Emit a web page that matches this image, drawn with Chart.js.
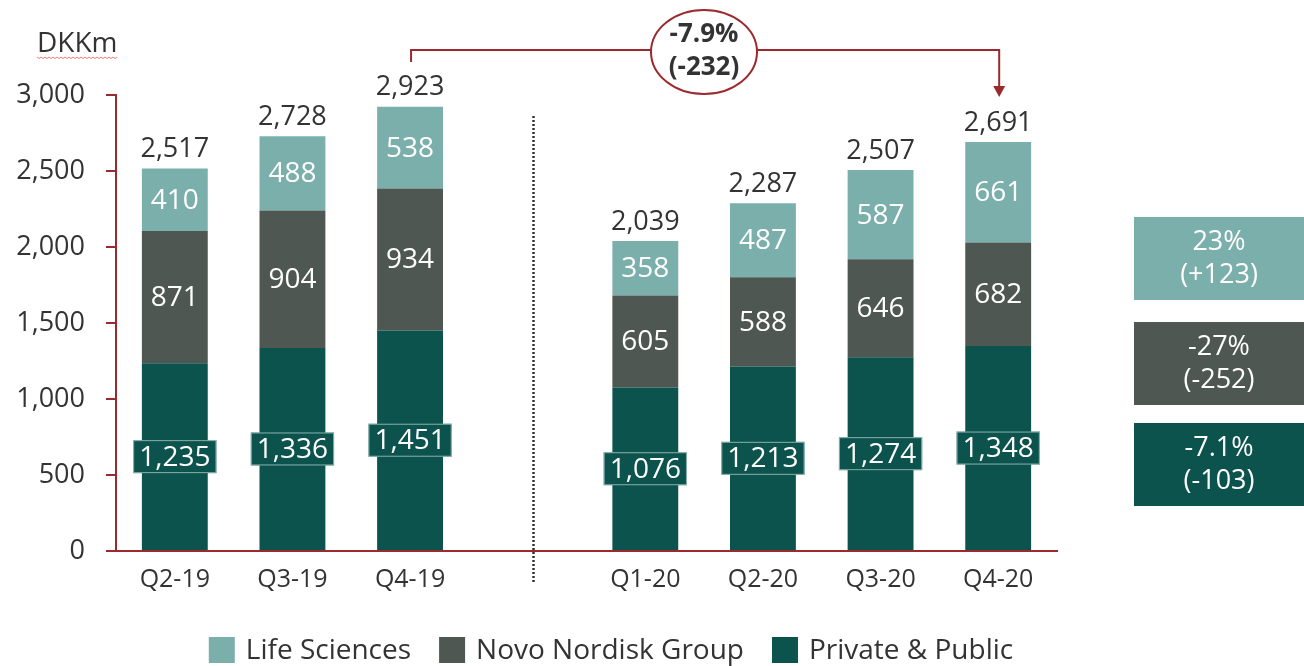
<!DOCTYPE html>
<html>
<head>
<meta charset="utf-8">
<script src="https://cdn.jsdelivr.net/npm/chart.js@4.4.0/dist/chart.umd.min.js"></script>
<style>
    html, body { margin: 0; padding: 0; background: #fff; }
    #wrap { width: 1304px; height: 666px; position: relative; }
</style>
</head>
<body>
<div id="wrap"><canvas id="revenueChart"></canvas></div>
<script>
const categories = ['Q2-19', 'Q3-19', 'Q4-19', '', 'Q1-20', 'Q2-20', 'Q3-20', 'Q4-20'];
const privatePublic = [1235, 1336, 1451, null, 1076, 1213, 1274, 1348];
const novoNordisk = [871, 904, 934, null, 605, 588, 646, 682];
const lifeSciences = [410, 488, 538, null, 358, 487, 587, 661];
const totals = [2517, 2728, 2923, null, 2039, 2287, 2507, 2691];
const yTicks = [0, 500, 1000, 1500, 2000, 2500, 3000];
const changeLife = ['23%', '(+123)'];
const changeNovo = ['-27%', '(-252)'];
const changePrivate = ['-7.1%', '(-103)'];
const bracketFrom = 2;
const bracketTo = 7;
const bracketText = ['-7.9%', '(-232)'];
const unitLabel = 'DKKm';

const colors = {
    life: '#7aafab',
    novo: '#4e5751',
    priv: '#0c524d',
    axis: '#9b2a2e',
    text: '#333333'
};
const fontFamily = "'Open Sans', 'DejaVu Sans', sans-serif";
Chart.defaults.font.family = fontFamily;
Chart.defaults.color = colors.text;

const fmt = v => v.toLocaleString('en-US');

// labels inside segments, totals, bracket, legend, change boxes
const decorations = {
    id: 'decorations',
    afterDatasetsDraw(chart) {
        const ctx = chart.ctx;
        const metas = chart.data.datasets.map((d, i) => chart.getDatasetMeta(i));
        ctx.save();
        ctx.textAlign = 'center';
        ctx.textBaseline = 'middle';
        ctx.font = '28px ' + fontFamily;

        metas.forEach((meta, di) => {
            const ds = chart.data.datasets[di];
            meta.data.forEach((bar, i) => {
                const v = ds.data[i];
                if (v == null) return;
                const cy = (bar.y + bar.base) / 2;
                const text = fmt(v);
                if (ds.labelBox) {
                    const w = ctx.measureText(text).width + 12;
                    const h = 33;
                    ctx.fillStyle = ds.backgroundColor;
                    ctx.fillRect(bar.x - w / 2, cy - h / 2, w, h);
                    ctx.strokeStyle = 'rgba(190,220,215,0.7)';
                    ctx.lineWidth = 1;
                    ctx.strokeRect(bar.x - w / 2 + 0.5, cy - h / 2 + 0.5, w - 1, h - 1);
                }
                ctx.fillStyle = '#ffffff';
                ctx.fillText(text, bar.x, cy + 1);
            });
        });

        // totals
        const top = metas[metas.length - 1];
        ctx.font = '27px ' + fontFamily;
        ctx.fillStyle = colors.text;
        top.data.forEach((bar, i) => {
            if (totals[i] == null) return;
            ctx.fillText(fmt(totals[i]), bar.x, bar.y - 19);
        });
        ctx.restore();
    },
    afterDraw(chart) {
        const ctx = chart.ctx;
        const x = chart.scales.x;
        ctx.save();

        // unit label
        ctx.font = '28px ' + fontFamily;
        ctx.fillStyle = colors.text;
        ctx.textBaseline = 'middle';
        ctx.textAlign = 'left';
        ctx.fillText(unitLabel, 37, 44);
        const uw = ctx.measureText(unitLabel).width;
        ctx.strokeStyle = 'rgba(230,90,90,0.8)';
        ctx.lineWidth = 1;
        ctx.beginPath();
        for (let px = 0; px <= uw; px += 2) {
            const py = 57 + ((px / 2) % 2 === 0 ? 0 : 1.5);
            if (px === 0) ctx.moveTo(37 + px, py); else ctx.lineTo(37 + px, py);
        }
        ctx.stroke();

        // dotted separator
        const sepX = Math.round(x.getPixelForValue(3)) + 5.5;
        ctx.strokeStyle = '#333';
        ctx.lineWidth = 2.5;
        ctx.setLineDash([2, 2]);
        ctx.beginPath();
        ctx.moveTo(sepX, 116);
        ctx.lineTo(sepX, 583);
        ctx.stroke();
        ctx.setLineDash([]);

        // bracket with arrow
        const x1 = x.getPixelForValue(bracketFrom) + 1;
        const x2 = x.getPixelForValue(bracketTo) + 1;
        const by = 50;
        ctx.strokeStyle = colors.axis;
        ctx.lineWidth = 2;
        ctx.beginPath();
        ctx.moveTo(x1, 62);
        ctx.lineTo(x1, by);
        ctx.lineTo(x2, by);
        ctx.lineTo(x2, 88);
        ctx.stroke();
        ctx.fillStyle = colors.axis;
        ctx.beginPath();
        ctx.moveTo(x2 - 6, 86);
        ctx.lineTo(x2 + 6, 86);
        ctx.lineTo(x2, 97);
        ctx.closePath();
        ctx.fill();

        // ellipse label
        const ex = 704, ey = 52;
        ctx.fillStyle = '#fff';
        ctx.beginPath();
        ctx.ellipse(ex, ey, 53, 42, 0, 0, Math.PI * 2);
        ctx.fill();
        ctx.stroke();
        ctx.fillStyle = colors.text;
        ctx.textAlign = 'center';
        ctx.font = 'bold 26px ' + fontFamily;
        ctx.fillText(bracketText[0], ex, ey - 17);
        ctx.fillText(bracketText[1], ex, ey + 16);

        // change boxes on the right
        const changes = [changeLife, changeNovo, changePrivate];
        const boxColors = [colors.life, colors.novo, colors.priv];
        const boxTops = [217, 322, 423];
        ctx.font = '27px ' + fontFamily;
        changes.forEach((c, i) => {
            ctx.fillStyle = boxColors[i];
            ctx.fillRect(1134, boxTops[i], 175, 83);
            ctx.fillStyle = '#fff';
            ctx.fillText(c[0], 1219, boxTops[i] + 25);
            ctx.fillText(c[1], 1219, boxTops[i] + 58);
        });

        // legend
        const items = [
            { label: chart.data.datasets[2].label, color: colors.life },
            { label: chart.data.datasets[1].label, color: colors.novo },
            { label: chart.data.datasets[0].label, color: colors.priv }
        ];
        ctx.font = '28px ' + fontFamily;
        ctx.textAlign = 'left';
        const box = 26, gap = 11, itemGap = 28;
        const widths = items.map(it => box + gap + ctx.measureText(it.label).width);
        const total = widths.reduce((a, b) => a + b, 0) + itemGap * (items.length - 1);
        let lx = 611 - total / 2;
        const ly = 650;
        items.forEach((it, i) => {
            ctx.fillStyle = it.color;
            ctx.fillRect(lx, ly - box / 2, box, box);
            ctx.fillStyle = colors.text;
            ctx.fillText(it.label, lx + box + gap, ly + 1);
            lx += widths[i] + itemGap;
        });

        ctx.restore();
    }
};

const barDefaults = {
    borderWidth: 0,
    barPercentage: 0.56,
    categoryPercentage: 1
};

const chartCtx = document.getElementById('revenueChart').getContext('2d');
const revenueChart = new Chart(chartCtx, {
    type: 'bar',
    data: {
        labels: categories,
        datasets: [{
            label: 'Private & Public',
            data: privatePublic,
            backgroundColor: colors.priv,
            labelBox: true,
            ...barDefaults
        },
        {
            label: 'Novo Nordisk Group',
            data: novoNordisk,
            backgroundColor: colors.novo,
            ...barDefaults
        },
        {
            label: 'Life Sciences',
            data: lifeSciences,
            backgroundColor: colors.life,
            ...barDefaults
        }]
    },
    options: {
        responsive: true,
        maintainAspectRatio: false,
        animation: false,
        layout: { padding: { top: 95, right: 247, bottom: 0, left: 0 } },
        plugins: {
            legend: { display: false },
            tooltip: { enabled: false }
        },
        scales: {
            x: {
                stacked: true,
                grid: { display: true, drawOnChartArea: false, drawTicks: false },
                border: { display: true, color: colors.axis, width: 2 },
                ticks: { font: { size: 25 }, color: colors.text, padding: 14, maxRotation: 0 },
                afterFit: scale => { scale.height = 115; }
            },
            y: {
                stacked: true,
                min: 0,
                max: 3000,
                afterBuildTicks: scale => { scale.ticks = yTicks.map(v => ({ value: v })); },
                grid: { drawOnChartArea: false, drawTicks: true, tickLength: 10, color: colors.axis, lineWidth: 2 },
                border: { display: true, color: colors.axis, width: 2 },
                ticks: { font: { size: 27 }, color: colors.text, padding: 21, callback: v => fmt(v) },
                afterFit: scale => { scale.width = 116; }
            }
        }
    },
    plugins: [decorations]
});
</script>
</body>
</html>
